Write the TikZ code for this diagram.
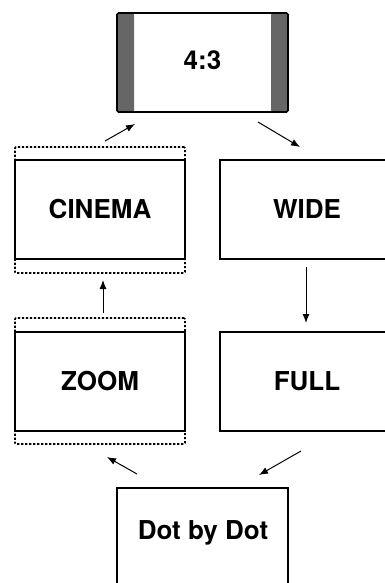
\documentclass[tikz,border=0pt]{standalone}
\usepackage{fontspec}
\setmainfont{TeX Gyre Heros}
\usetikzlibrary{arrows.meta}
\definecolor{barcol}{HTML}{666666}
\tikzset{
  box/.style={draw=black, line width=1.5pt, fill=white, minimum width=170pt, minimum height=99pt, inner sep=0pt},
  lbl/.style={font=\fontsize{26}{30}\selectfont\bfseries, inner sep=0pt},
  frame/.style={draw=black, line width=1.7pt, dash pattern=on 2.2pt off 1.8pt, minimum width=170pt, minimum height=126pt, inner sep=0pt, rounded corners=1pt},
  conn/.style={line width=1pt, -{Latex[length=9pt,width=7pt]}}
}
\begin{document}
\begin{tikzpicture}[x=1pt,y=-1pt]
\clip (0,0) rectangle (385,583);
\fill[white] (0,0) rectangle (385,583);
% top 4:3 box
\node[box, line width=1.7pt, minimum width=171pt, rounded corners=1.5pt,
  path picture={
    \fill[barcol] (path picture bounding box.north west) rectangle ([xshift=17pt]path picture bounding box.south west);
    \fill[barcol] ([xshift=-17pt]path picture bounding box.north east) rectangle (path picture bounding box.south east);
  }] (top) at (202.5,62.5) {};
\node[lbl] (toptext) at (202.5,60) {4:3};
% cinema
\node[frame] (cinemaF) at (100,210) {};
\node[box, lbl] (cinema) at (100,209.5) {CINEMA};
% wide
\node[box, lbl, minimum width=174pt] (wide) at (307,209.5) {WIDE};
% zoom
\node[frame] (zoomF) at (100,381) {};
\node[box, lbl] (zoom) at (100,381.5) {ZOOM};
% full
\node[box, lbl, minimum width=174pt] (full) at (307,381.5) {FULL};
% dot by dot
\node[box, minimum width=171pt, minimum height=120pt, anchor=north] (dot) at (202.5,487) {};
\node[lbl] (dottext) at (203,533) {Dot by Dot};
% connector ends
\coordinate (c1s) at (105,141); \coordinate (c1e) at (135,124);
\coordinate (c2s) at (258,122); \coordinate (c2e) at (300,147);
\coordinate (c3s) at (306,267); \coordinate (c3e) at (306,323);
\coordinate (c4s) at (103,313); \coordinate (c4e) at (103,280);
\coordinate (c5s) at (301,451); \coordinate (c5e) at (259,475);
\coordinate (c6s) at (137,474); \coordinate (c6e) at (107,457);
\draw[conn] (c1s) -- (c1e);
\draw[conn] (c2s) -- (c2e);
\draw[conn] (c3s) -- (c3e);
\draw[conn] (c4s) -- (c4e);
\draw[conn] (c5s) -- (c5e);
\draw[conn] (c6s) -- (c6e);
\end{tikzpicture}
\end{document}
